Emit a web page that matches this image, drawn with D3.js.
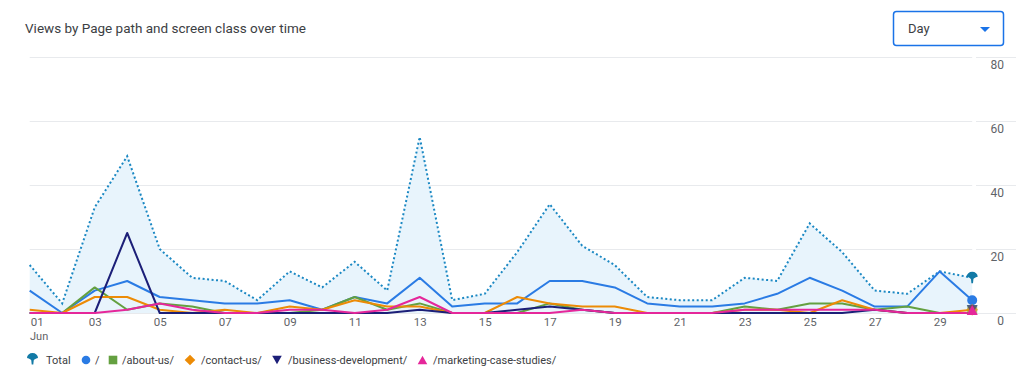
<!DOCTYPE html>
<html>
<head>
<meta charset="utf-8">
<script src="https://cdn.jsdelivr.net/npm/d3@7"></script>
<style>
  body { margin: 0; background: #fff; font-family: Roboto, "Noto Sans", sans-serif; }
  svg { display: block; }
</style>
</head>
<body>
<div class="stage"></div>
<script>
// chart size
var width = 1024;
var height = 386;

// data (views per day, June)
var days = [1,2,3,4,5,6,7,8,9,10,11,12,13,14,15,16,17,18,19,20,21,22,23,24,25,26,27,28,29,30];
var total      = [15,3,33,49,20,11,10,4,13,8,16,7,55,4,6,19,34,21,15,5,4,4,11,10,28,19,7,6,13,11];
var home       = [7,0,7,10,5,4,3,3,4,1,5,3,11,2,3,3,10,10,8,3,2,2,3,6,11,7,2,2,13,4];
var aboutUs    = [0,0,8,1,3,2,0,0,0,1,5,1,3,0,0,0,3,1,0,0,0,0,2,1,3,3,1,2,0,0];
var contactUs  = [1,0,5,5,1,0,1,0,2,1,4,2,2,0,0,5,3,2,2,0,0,0,1,1,0,4,1,0,0,1];
var businessDev= [0,0,0,25,0,0,0,0,0,0,0,0,1,0,0,1,2,1,0,0,0,0,0,0,0,0,1,0,0,0];
var marketing  = [0,0,0,1,3,1,0,0,1,1,0,1,5,0,0,0,0,1,0,0,0,0,1,1,1,1,1,0,0,0];
var yTicks = [0,20,40,60,80];
var xTicks = [1,3,5,7,9,11,13,15,17,19,21,23,25,27,29];
var seriesNames = ['Total','/','/about-us/','/contact-us/','/business-development/','/marketing-case-studies/'];

var colTotal = '#1b88c3';
var colPin = '#127aa6';
var series = [
  {name: '/', values: home, color: '#2a7be4', shape: 'circle'},
  {name: '/about-us/', values: aboutUs, color: '#64a040', shape: 'square'},
  {name: '/contact-us/', values: contactUs, color: '#ec8b06', shape: 'diamond'},
  {name: '/business-development/', values: businessDev, color: '#1c1f78', shape: 'down'},
  {name: '/marketing-case-studies/', values: marketing, color: '#e5279a', shape: 'up'}
];

var svg = d3.select('.stage')
  .append('svg')
  .attr('width', width)
  .attr('height', height);

// title
svg.append('text')
  .attr('x', 25)
  .attr('y', 33)
  .attr('font-size', 13.5)
  .attr('fill', '#3c4043')
  .text('Views by Page path and screen class over time');

// dropdown
svg.append('rect')
  .attr('x', 893.5).attr('y', 11.5)
  .attr('width', 110).attr('height', 34)
  .attr('rx', 3)
  .attr('fill', '#fff')
  .attr('stroke', '#1a73e8')
  .attr('stroke-width', 1.5);
svg.append('text')
  .attr('x', 908).attr('y', 33)
  .attr('font-size', 13)
  .attr('fill', '#3c4043')
  .text('Day');
svg.append('path')
  .attr('d', 'M980,27 L990,27 L985,32 Z')
  .attr('fill', '#1a73e8');

// scales
var x = d3.scaleLinear().domain([1, 30]).range([29.7, 972.2]);
var y = d3.scaleLinear().domain([0, 80]).range([313, 57]);

// gridlines
svg.selectAll('.grid')
  .data(yTicks)
  .enter()
  .append('line')
  .attr('class', 'grid')
  .attr('x1', 29.7).attr('x2', 972.2)
  .attr('y1', function(d){ return y(d) + 0.5; })
  .attr('y2', function(d){ return y(d) + 0.5; })
  .attr('stroke', '#e8eaed');
svg.selectAll('.grid2')
  .data(yTicks)
  .enter()
  .append('line')
  .attr('class', 'grid2')
  .attr('x1', 976).attr('x2', 1016)
  .attr('y1', function(d){ return y(d) + 0.5; })
  .attr('y2', function(d){ return y(d) + 0.5; })
  .attr('stroke', '#e8eaed');

// y axis labels (right side)
var yAxis = svg.append('g')
  .attr('transform', 'translate(1004,0)')
  .call(d3.axisRight(y).tickValues(yTicks).tickSize(0).tickPadding(0));
yAxis.select('.domain').remove();
yAxis.selectAll('text')
  .attr('text-anchor', 'end')
  .attr('dy', 11)
  .attr('font-size', 12)
  .attr('font-family', 'Roboto, sans-serif')
  .attr('fill', '#5f6368');

// x axis
var xAxis = svg.append('g')
  .attr('transform', 'translate(0,313)')
  .call(d3.axisBottom(x).tickValues(xTicks).tickSize(0).tickPadding(5)
    .tickFormat(function(d){ return (d < 10 ? '0' : '') + d; }));
xAxis.select('.domain').remove();
xAxis.selectAll('text')
  .attr('font-size', 11.5)
  .attr('font-family', 'Roboto, sans-serif')
  .attr('fill', '#5f6368')
  .attr('text-anchor', function(d){ return d === 1 ? 'start' : 'middle'; })
  .attr('x', function(d){ return d === 1 ? 0.5 : 0; });
svg.append('text')
  .attr('x', 30).attr('y', 340)
  .attr('font-size', 11)
  .attr('fill', '#5f6368')
  .text('Jun');

// total area + dotted line
var area = d3.area()
  .x(function(d, i){ return x(days[i]); })
  .y0(y(0))
  .y1(function(d){ return y(d); });
svg.append('path')
  .datum(total)
  .attr('d', area)
  .attr('fill', '#e8f4fc');

var line = d3.line()
  .x(function(d, i){ return x(days[i]); })
  .y(function(d){ return y(d); });

svg.append('path')
  .datum(total)
  .attr('d', line)
  .attr('fill', 'none')
  .attr('stroke', colTotal)
  .attr('stroke-width', 2)
  .attr('stroke-dasharray', '2,2.5');

// series lines
svg.selectAll('.series')
  .data(series)
  .enter()
  .append('path')
  .attr('class', 'series')
  .attr('d', function(s){ return line(s.values); })
  .attr('fill', 'none')
  .attr('stroke', function(s){ return s.color; })
  .attr('stroke-width', 2)
  .attr('stroke-linejoin', 'round');

// marker shapes
var shapePath = function(shape, cx, cy, r) {
  if (shape === 'circle') return d3.symbol().type(d3.symbolCircle).size(r * r * 3.14)();
  if (shape === 'square') return 'M' + (-r) + ',' + (-r) + 'h' + (2*r) + 'v' + (2*r) + 'h' + (-2*r) + 'Z';
  if (shape === 'diamond') return 'M0,' + (-r-1) + 'L' + (r+1) + ',0L0,' + (r+1) + 'L' + (-r-1) + ',0Z';
  if (shape === 'down') return 'M' + (-r-0.5) + ',' + (-r) + 'L' + (r+0.5) + ',' + (-r) + 'L0,' + r + 'Z';
  if (shape === 'up') return 'M' + (-r-0.5) + ',' + r + 'L' + (r+0.5) + ',' + r + 'L0,' + (-r) + 'Z';
};
var pinPath = 'M-5.5,0 A5.5,5 0 0 1 5.5,0 Q1.5,1 1.2,2.5 L0.8,6.5 L-0.8,6.5 L-1.2,2.5 Q-1.5,1 -5.5,0 Z';

// end markers at last day
var last = days.length - 1;
svg.append('path')
  .attr('d', pinPath)
  .attr('transform', 'translate(' + x(days[last]) + ',' + (y(total[last]) - 1) + ')')
  .attr('fill', colPin);
svg.selectAll('.endmark')
  .data(series)
  .enter()
  .append('path')
  .attr('class', 'endmark')
  .attr('d', function(s){ return shapePath(s.shape, 0, 0, 5); })
  .attr('transform', function(s){
    var v = s.values[last];
    return 'translate(' + x(days[last]) + ',' + Math.min(y(v), y(0) - 3) + ')';
  })
  .attr('fill', function(s){ return s.color; })
  .attr('fill-opacity', function(s){ return s.shape === 'circle' || s.shape === 'up' ? 1 : 0.6; });

// legend
var legendItems = [
  {name: seriesNames[0], ix: 32.5, tx: 46},
  {name: seriesNames[1], ix: 86, tx: 95, s: series[0]},
  {name: seriesNames[2], ix: 113, tx: 122, s: series[1]},
  {name: seriesNames[3], ix: 190, tx: 201, s: series[2]},
  {name: seriesNames[4], ix: 277, tx: 288, s: series[3]},
  {name: seriesNames[5], ix: 422.5, tx: 433, s: series[4]}
];
var legend = svg.selectAll('.legend')
  .data(legendItems)
  .enter()
  .append('g')
  .attr('class', 'legend');
legend.append('path')
  .attr('d', function(d){ return d.s ? shapePath(d.s.shape, 0, 0, 4.3) : pinPath; })
  .attr('transform', function(d){ return 'translate(' + d.ix + ',' + (d.s ? 360 : 358) + ')'; })
  .attr('fill', function(d){ return d.s ? d.s.color : colPin; });
legend.append('text')
  .attr('x', function(d){ return d.tx; })
  .attr('y', 364)
  .attr('font-size', 11)
  .attr('fill', '#3c4043')
  .text(function(d){ return d.name; });
</script>
</body>
</html>
